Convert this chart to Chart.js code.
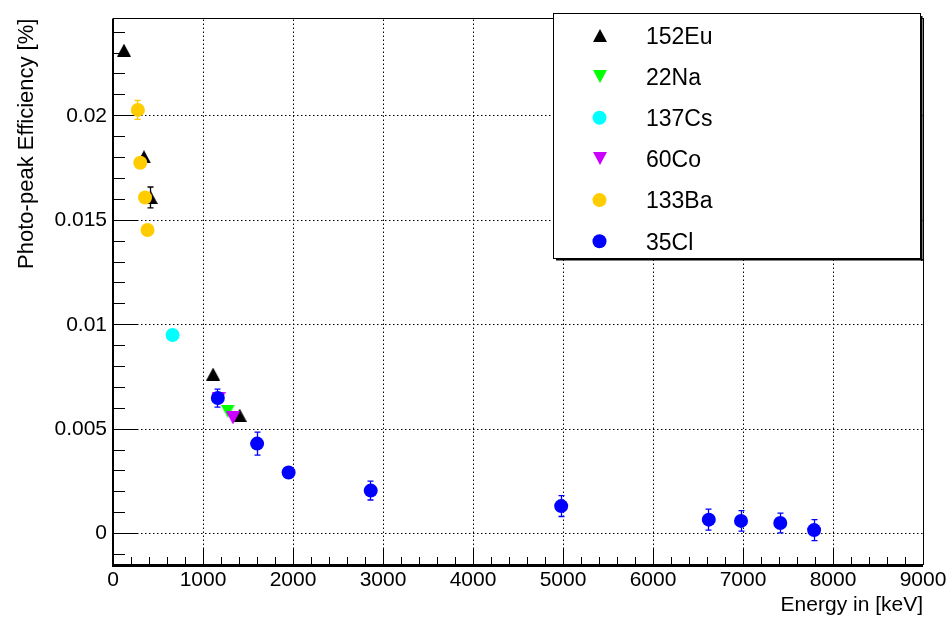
<!DOCTYPE html>
<html><head><meta charset="utf-8">
<script src="https://cdn.jsdelivr.net/npm/chart.js@4/dist/chart.umd.min.js"></script>
<style>html,body{margin:0;padding:0;background:#fff;} canvas{display:block;}</style>
</head><body>
<canvas id="c" width="950" height="617"></canvas>
<script>
// ---- data ----
const seriesNames = ['152Eu', '22Na', '137Cs', '60Co', '133Ba', '35Cl'];
const eu152Energy = [121.8, 344.3, 420, 1112.1, 1408.0];
const eu152Eff    = [0.02314, 0.01804, 0.01609, 0.00764, 0.00567];
const eu152Err    = [0.0002, 0.0002, 0.0005, 0.0002, 0.0002];
const na22Energy  = [1274.5];
const na22Eff     = [0.00586];
const na22Err     = [0.0002];
const cs137Energy = [661.7];
const cs137Eff    = [0.00951];
const cs137Err    = [0.0002];
const co60Energy  = [1173.2, 1332.5];
const co60Eff     = [0.00646, 0.00554];
const co60Err     = [0.0002, 0.0002];
const ba133Energy = [276.4, 302.9, 356.0, 383.8];
const ba133Eff    = [0.02028, 0.01775, 0.01609, 0.01453];
const ba133Err    = [0.00045, 0.0002, 0.0002, 0.0002];
const cl35Energy  = [1164.9, 1601.1, 1951.1, 2863.8, 4980, 6620, 6978, 7414, 7790];
const cl35Eff     = [0.00649, 0.00431, 0.00293, 0.00206, 0.00132, 0.00067, 0.00061, 0.00051, 0.00017];
const cl35Err     = [0.00043, 0.00055, 0.0002, 0.00045, 0.0005, 0.0005, 0.00049, 0.00047, 0.0005];

const xTickValues = [0, 1000, 2000, 3000, 4000, 5000, 6000, 7000, 8000, 9000];
const xTickLabels = ['0', '1000', '2000', '3000', '4000', '5000', '6000', '7000', '8000', '9000'];
const yTickValues = [0, 0.005, 0.01, 0.015, 0.02];
const yTickLabels = ['0', '0.005', '0.01', '0.015', '0.02'];
const xTitle = 'Energy in [keV]';
const yTitle = 'Photo-peak Efficiency [%]';

// ---- styles ----
const FONT = '"Liberation Sans", Arial, Helvetica, sans-serif';
const X_MIN = 0, X_MAX = 9000, Y_MIN = -0.0015, Y_MAX = 0.02465;
const X_MINOR = 200, Y_MINOR = 0.001;

function triCanvas(color, down) {
  const c = document.createElement('canvas');
  c.width = 14; c.height = 13;
  const g = c.getContext('2d');
  g.fillStyle = color;
  g.beginPath();
  if (!down) { g.moveTo(7, 0); g.lineTo(14, 13); g.lineTo(0, 13); }
  else { g.moveTo(0, 0); g.lineTo(14, 0); g.lineTo(7, 13); }
  g.closePath(); g.fill();
  return c;
}

function pts(xs, ys, es) { return xs.map((v, i) => ({x: v, y: ys[i], err: es[i]})); }

const seriesDefs = [
  {name: seriesNames[0], data: pts(eu152Energy, eu152Eff, eu152Err), color: '#000000', marker: 'up'},
  {name: seriesNames[1], data: pts(na22Energy, na22Eff, na22Err), color: '#00ff00', marker: 'down'},
  {name: seriesNames[2], data: pts(cs137Energy, cs137Eff, cs137Err), color: '#00ffff', marker: 'circle'},
  {name: seriesNames[3], data: pts(co60Energy, co60Eff, co60Err), color: '#cc00ff', marker: 'down'},
  {name: seriesNames[4], data: pts(ba133Energy, ba133Eff, ba133Err), color: '#ffcc00', marker: 'circle'},
  {name: seriesNames[5], data: pts(cl35Energy, cl35Eff, cl35Err), color: '#0000ff', marker: 'circle'}
];
seriesDefs.forEach(s => {
  s.style = s.marker === 'circle' ? 'circle' : triCanvas(s.color, s.marker === 'down');
});

const datasets = seriesDefs.map((s, i) => ({
  label: s.name,
  data: s.data,
  showLine: false,
  pointStyle: s.style,
  pointRadius: 7,
  pointHoverRadius: 7,
  pointBorderWidth: 0,
  pointBackgroundColor: s.color,
  pointBorderColor: s.color,
  order: seriesDefs.length - i
}));

function px(v) { return Math.round(v - 0.5) + 0.5; }

const decorPlugin = {
  id: 'rootDecor',
  beforeDatasetsDraw(chart) {
    const {ctx, chartArea: a, scales: {x, y}} = chart;
    ctx.save();
    // dotted grid
    ctx.strokeStyle = '#000'; ctx.lineWidth = 1; ctx.setLineDash([1.5, 2.5]);
    xTickValues.forEach(v => {
      if (v <= X_MIN || v >= X_MAX) return;
      const p = px(x.getPixelForValue(v));
      ctx.beginPath(); ctx.moveTo(p, a.bottom); ctx.lineTo(p, a.top); ctx.stroke();
    });
    yTickValues.forEach(v => {
      const p = px(y.getPixelForValue(v));
      ctx.beginPath(); ctx.moveTo(a.left, p); ctx.lineTo(a.right, p); ctx.stroke();
    });
    ctx.setLineDash([]);
    // frame
    ctx.lineWidth = 1;
    ctx.strokeRect(px(a.left), px(a.top), Math.round(a.right - a.left), Math.round(a.bottom - a.top));
    // axis lines
    ctx.lineWidth = 2;
    ctx.beginPath(); ctx.moveTo(a.left, a.top); ctx.lineTo(a.left, a.bottom + 1); ctx.lineTo(a.right, a.bottom + 1); ctx.stroke();
    // tick marks (inside frame)
    ctx.lineWidth = 1;
    const xMaj = 16.5, xMin = 8, yMaj = 24, yMin = 12;
    for (let v = X_MIN; v <= X_MAX + 1e-6; v += X_MINOR) {
      const isMaj = Math.abs(v / 1000 - Math.round(v / 1000)) < 1e-6;
      const p = px(x.getPixelForValue(v));
      ctx.beginPath(); ctx.moveTo(p, a.bottom); ctx.lineTo(p, a.bottom - (isMaj ? xMaj : xMin)); ctx.stroke();
    }
    for (let k = Math.ceil(Y_MIN / Y_MINOR); k * Y_MINOR <= Y_MAX + 1e-9; k++) {
      const v = k * Y_MINOR;
      const isMaj = k % 5 === 0;
      const p = px(y.getPixelForValue(v));
      ctx.beginPath(); ctx.moveTo(a.left, p); ctx.lineTo(a.left + (isMaj ? yMaj : yMin), p); ctx.stroke();
    }
    // error bars
    chart.data.datasets.forEach((ds, i) => {
      const col = seriesDefs[i].color;
      ds.data.forEach(d => {
        const cx = px(x.getPixelForValue(d.x));
        const cy = y.getPixelForValue(d.y);
        const t = y.getPixelForValue(d.y + d.err);
        const b = y.getPixelForValue(d.y - d.err);
        if (b - cy <= 7.5) return;
        ctx.strokeStyle = col; ctx.lineWidth = 1.3;
        ctx.beginPath(); ctx.moveTo(cx, t); ctx.lineTo(cx, b); ctx.stroke();
        ctx.beginPath(); ctx.moveTo(cx - 3, t); ctx.lineTo(cx + 3, t);
        ctx.moveTo(cx - 3, b); ctx.lineTo(cx + 3, b); ctx.stroke();
      });
    });
    ctx.restore();
  },
  afterDraw(chart) {
    const {ctx} = chart;
    ctx.save();
    const L = {x: 553.5, y: 13.5, w: 367, h: 245};
    ctx.fillStyle = '#000';
    ctx.fillRect(L.x + 2.5, L.y + L.h + 0.5, L.w, 1.5);
    ctx.fillRect(L.x + L.w + 0.5, L.y + 2.5, 1.5, L.h);
    ctx.fillStyle = '#fff';
    ctx.fillRect(L.x, L.y, L.w, L.h);
    ctx.strokeStyle = '#000'; ctx.lineWidth = 1;
    ctx.strokeRect(L.x, L.y, L.w, L.h);
    const rowH = 41.2, firstRow = L.y + 21.8, mx = 599.5, tx = 646;
    ctx.font = '23px ' + FONT;
    ctx.textBaseline = 'alphabetic'; ctx.textAlign = 'left';
    seriesDefs.forEach((s, i) => {
      const cy = firstRow + i * rowH;
      if (s.marker === 'circle') {
        ctx.fillStyle = s.color;
        ctx.beginPath(); ctx.arc(mx, cy, 7, 0, Math.PI * 2); ctx.fill();
      } else {
        ctx.drawImage(s.style, Math.round(mx - 7), Math.round(cy - 6.5));
      }
      ctx.fillStyle = '#000';
      ctx.fillText(s.name, tx, cy + 8.2);
    });
    ctx.restore();
  }
};

new Chart(document.getElementById('c'), {
  type: 'scatter',
  data: {datasets},
  options: {
    responsive: false,
    animation: false,
    events: [],
    layout: {padding: {left: 0, right: 27, top: 14, bottom: 0}},
    plugins: {legend: {display: false}, tooltip: {enabled: false}},
    scales: {
      x: {
        type: 'linear', min: X_MIN, max: X_MAX,
        afterBuildTicks: s => { s.ticks = xTickValues.map(v => ({value: v})); },
        afterFit: s => { s.height = 52; },
        grid: {display: false, drawTicks: false},
        border: {display: false},
        ticks: {
          autoSkip: false, maxRotation: 0, minRotation: 0, padding: 3,
          color: '#000', font: {family: FONT, size: 21},
          callback: (v, i) => xTickLabels[i]
        },
        title: {display: true, text: xTitle, align: 'end', color: '#000',
                font: {family: FONT, size: 21}, padding: {top: 0, bottom: -1}}
      },
      y: {
        type: 'linear', min: Y_MIN, max: Y_MAX,
        afterBuildTicks: s => { s.ticks = yTickValues.map(v => ({value: v})); },
        afterFit: s => { s.width = 113; },
        grid: {display: false, drawTicks: false},
        border: {display: false},
        ticks: {
          padding: 6, color: '#000', font: {family: FONT, size: 21},
          callback: (v, i) => yTickLabels[i]
        },
        title: {display: true, text: yTitle, align: 'end', color: '#000',
                font: {family: FONT, size: 22}, padding: {top: 14, bottom: 0}}
      }
    }
  },
  plugins: [decorPlugin]
});
</script>
</body></html>
